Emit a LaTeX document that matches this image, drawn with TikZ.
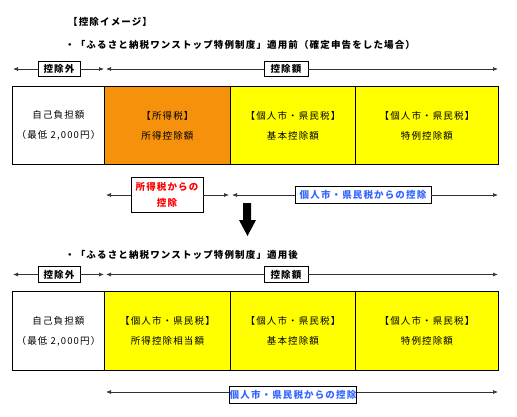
\documentclass[tikz,border=0pt]{standalone}
\usepackage{fontspec}
\setmainfont{Noto Sans CJK JP}
\newfontfamily\jp[LetterSpace=12]{Noto Sans CJK JP}
\usetikzlibrary{arrows.meta}
\definecolor{orng}{RGB}{245,145,10}
\definecolor{ylw}{RGB}{255,255,0}
\definecolor{blu}{RGB}{51,102,255}
\definecolor{redt}{RGB}{255,0,0}
\tikzset{
  cell/.style={draw, line width=0.9pt, inner sep=0pt, anchor=north west, align=center,
    font=\jp\fontsize{9.5}{20}\selectfont},
  lbl/.style={draw, line width=0.9pt, fill=white, inner sep=0pt, minimum height=15pt,
    font=\jp\bfseries\fontsize{9.5}{15}\selectfont},
  dim/.style={line width=0.7pt, draw=black!80, -{Latex[length=5pt,width=4pt]}},
  head/.style={anchor=base west, inner sep=0pt, font=\jp\bfseries\fontsize{9.5}{12}\selectfont},
}
\begin{document}
\begin{tikzpicture}[x=1pt,y=-1pt]
\useasboundingbox (0,0) rectangle (517,417);
% headings
\node[head] (t0) at (68,26) {【控除イメージ】};
\node[head] (t1) at (65,49) {・「ふるさと納税ワンストップ特例制度」適用前（確定申告をした場合）};
% top dimension line
\node[lbl, minimum width=42pt] (k1) at (59,69) {控除外};
\node[lbl, minimum width=44pt] (k2) at (286,69) {控除額};
\coordinate (k1l) at (13,69);
\coordinate (k1r) at (104,69);
\coordinate (k2l) at (106,69);
\coordinate (k2r) at (498,69);
\draw[dim] (k1.west) -- (k1l);
\draw[dim] (k1.east) -- (k1r);
\draw[dim] (k2.west) -- (k2l);
\draw[dim] (k2.east) -- (k2r);
% top row
\node[cell, fill=white, minimum width=92pt, minimum height=78pt] (a1) at (12,86) {自己負担額\\（最低 2,000円）};
\node[cell, fill=orng, minimum width=126pt, minimum height=78pt] (a2) at (104,86) {【所得税】\\所得控除額};
\node[cell, fill=ylw, minimum width=125pt, minimum height=78pt] (a3) at (230,86) {【個人市・県民税】\\基本控除額};
\node[cell, fill=ylw, minimum width=143pt, minimum height=78pt] (a4) at (355,86) {【個人市・県民税】\\特例控除額};
% lower dimension lines (before)
\node[lbl, minimum width=72pt, minimum height=35pt, align=center, text=redt,
  font=\jp\bfseries\fontsize{9.5}{16}\selectfont] (s1) at (167,194.5) {所得税からの\\控除};
\node[lbl, minimum width=136pt, minimum height=17pt, text=blu] (s2) at (363,194.5) {個人市・県民税からの控除};
\coordinate (s1l) at (106,195);
\coordinate (s1r) at (229,195);
\coordinate (s2l) at (232,195);
\coordinate (s2r) at (498,195);
\draw[dim] (s1.west |- s1l) -- (s1l);
\draw[dim] (s1.east |- s1r) -- (s1r);
\draw[dim] (s2.west |- s2l) -- (s2l);
\draw[dim] (s2.east |- s2r) -- (s2r);
% big down arrow
\fill[black] (243,203) -- (251,203) -- (251,220) -- (256,220) -- (247.5,236) -- (239,220) -- (243,220) -- cycle;
% after
\node[head] (t2) at (65,258) {・「ふるさと納税ワンストップ特例制度」適用後};
\node[lbl, minimum width=42pt, minimum height=16pt] (m1) at (59,274.5) {控除外};
\node[lbl, minimum width=44pt, minimum height=16pt] (m2) at (286,274.5) {控除額};
\coordinate (m1l) at (13,274.5);
\coordinate (m1r) at (104,274.5);
\coordinate (m2l) at (106,274.5);
\coordinate (m2r) at (498,274.5);
\draw[dim] (m1.west) -- (m1l);
\draw[dim] (m1.east) -- (m1r);
\draw[dim] (m2.west) -- (m2l);
\draw[dim] (m2.east) -- (m2r);
\node[cell, fill=white, minimum width=92pt, minimum height=79pt] (b1) at (12,291) {自己負担額\\（最低 2,000円）};
\node[cell, fill=ylw, minimum width=126pt, minimum height=79pt] (b2) at (104,291) {【個人市・県民税】\\所得控除相当額};
\node[cell, fill=ylw, minimum width=125pt, minimum height=79pt] (b3) at (230,291) {【個人市・県民税】\\基本控除額};
\node[cell, fill=ylw, minimum width=143pt, minimum height=79pt] (b4) at (355,291) {【個人市・県民税】\\特例控除額};
\node[lbl, minimum width=126pt, minimum height=17pt, text=blu] (u1) at (293,395) {個人市・県民税からの控除};
\coordinate (u1l) at (106,392);
\coordinate (u1r) at (498,392);
\draw[dim] (u1.west |- u1l) -- (u1l);
\draw[dim] (u1.east |- u1r) -- (u1r);
\end{tikzpicture}
\end{document}
